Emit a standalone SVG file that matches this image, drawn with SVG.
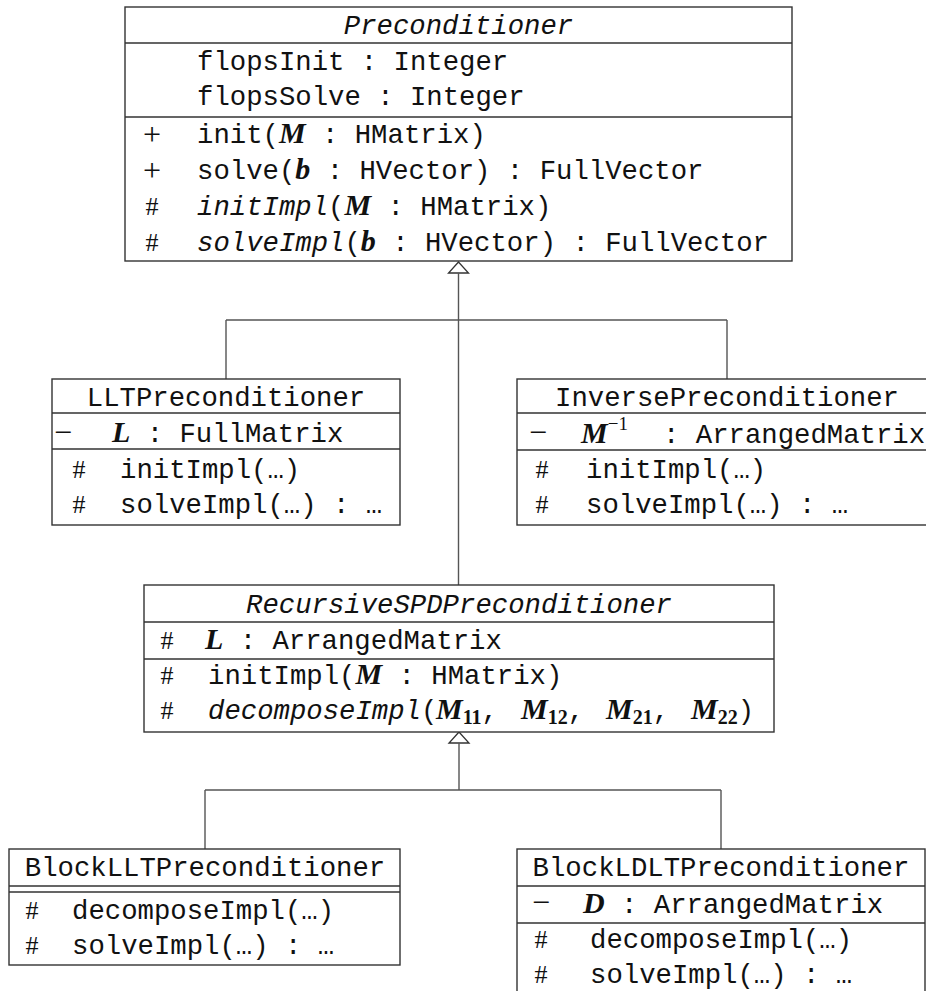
<svg xmlns="http://www.w3.org/2000/svg" width="926" height="991" viewBox="0 0 926 991">
<style>
.box{fill:#fff;stroke:#333;stroke-width:1.4}
.sep{stroke:#333;stroke-width:1.4;fill:none}
.con{stroke:#555;stroke-width:1.4;fill:none}
.tri{fill:#fff;stroke:#333;stroke-width:1.3}
text{font-family:"Liberation Mono","DejaVu Sans Mono",monospace;font-size:27.3px;fill:#111}
.c{text-anchor:middle}
.it{font-style:italic}
.m{font-family:"Liberation Serif","DejaVu Serif",serif;font-weight:bold;font-style:italic;font-size:30px}
.sg{font-family:"Liberation Serif","DejaVu Serif",serif;text-anchor:middle;font-size:26px}
.pl{font-size:32px}
.mi{font-size:32px}
.sub{font-family:"Liberation Serif","DejaVu Serif",serif;font-weight:bold;font-size:20px}
.sup{font-family:"Liberation Serif","DejaVu Serif",serif;font-size:19px}
</style>
<g id="connectors">
<polygon class="tri" points="458.5,262 448.5,273 468.5,273"/>
<path class="con" d="M458.5,273V585M226,320H727M226,320V379M727,320V379"/>
<polygon class="tri" points="459,732 449,743 469,743"/>
<path class="con" d="M459,743V790M205,790H721M205,790V849M721,790V849"/>
</g>
<g id="Preconditioner">
<rect class="box" x="125" y="7" width="667" height="254"/>
<path class="sep" d="M125,43H792M125,117H792"/>
<text class="c it" x="458.5" y="34">Preconditioner</text>
<text x="197" y="70">flopsInit : Integer</text>
<text x="197" y="105">flopsSolve : Integer</text>
<text class="sg pl" x="152" y="145">+</text>
<text x="197" y="143">init(<tspan class="m">M</tspan> : HMatrix)</text>
<text class="sg pl" x="152" y="181">+</text>
<text x="197" y="179">solve(<tspan class="m">b</tspan> : HVector) : FullVector</text>
<text class="sg" x="152" y="215">#</text>
<text x="197" y="215"><tspan class="it">initImpl</tspan>(<tspan class="m">M</tspan> : HMatrix)</text>
<text class="sg" x="152" y="251">#</text>
<text x="197" y="251"><tspan class="it">solveImpl</tspan>(<tspan class="m">b</tspan> : HVector) : FullVector</text>
</g>
<g id="LLTPreconditioner">
<rect class="box" x="52" y="379" width="348" height="146"/>
<path class="sep" d="M52,413H400M52,449H400"/>
<text class="c" x="226" y="406">LLTPreconditioner</text>
<text class="sg mi" x="63" y="443">−</text>
<text x="112" y="442"><tspan class="m">L</tspan> : FullMatrix</text>
<text class="sg" x="79" y="478">#</text>
<text x="120" y="478">initImpl(…)</text>
<text class="sg" x="79" y="513">#</text>
<text x="120" y="513">solveImpl(…) : …</text>
</g>
<g id="InversePreconditioner">
<rect class="box" x="517" y="379" width="420" height="146"/>
<path class="sep" d="M517,413H937M517,450H937"/>
<text class="c" x="727" y="406">InversePreconditioner</text>
<text class="sg mi" x="538" y="443">−</text>
<text x="581" y="443"><tspan class="m">M</tspan><tspan class="sup" dy="-13">−1</tspan></text>
<text x="663" y="443">: ArrangedMatrix</text>
<text class="sg" x="542" y="478">#</text>
<text x="586" y="478">initImpl(…)</text>
<text class="sg" x="542" y="513">#</text>
<text x="586" y="513">solveImpl(…) : …</text>
</g>
<g id="RecursiveSPDPreconditioner">
<rect class="box" x="144" y="585" width="630" height="147"/>
<path class="sep" d="M144,622H774M144,659H774"/>
<text class="c it" x="459" y="613">RecursiveSPDPreconditioner</text>
<text class="sg" x="167" y="649">#</text>
<text x="205" y="649"><tspan class="m">L</tspan> : ArrangedMatrix</text>
<text class="sg" x="167" y="684">#</text>
<text x="208" y="684">initImpl(<tspan class="m">M</tspan> : HMatrix)</text>
<text class="sg" x="167" y="719">#</text>
<text x="208" y="719"><tspan class="it">decomposeImpl</tspan>(</text>
<text x="436" y="719"><tspan class="m">M</tspan><tspan class="sub" dy="5">11</tspan><tspan dy="-5">,</tspan></text>
<text x="521" y="719"><tspan class="m">M</tspan><tspan class="sub" dy="5">12</tspan><tspan dy="-5">,</tspan></text>
<text x="606" y="719"><tspan class="m">M</tspan><tspan class="sub" dy="5">21</tspan><tspan dy="-5">,</tspan></text>
<text x="691" y="719"><tspan class="m">M</tspan><tspan class="sub" dy="5">22</tspan><tspan dy="-5">)</tspan></text>
</g>
<g id="BlockLLTPreconditioner">
<rect class="box" x="9" y="849" width="391" height="116"/>
<path class="sep" d="M9,886H400M9,892H400"/>
<text class="c" x="205" y="876">BlockLLTPreconditioner</text>
<text class="sg" x="32" y="919">#</text>
<text x="72" y="919">decomposeImpl(…)</text>
<text class="sg" x="32" y="954">#</text>
<text x="72" y="954">solveImpl(…) : …</text>
</g>
<g id="BlockLDLTPreconditioner">
<rect class="box" x="517" y="849" width="408" height="150"/>
<path class="sep" d="M517,886H925M517,923H925"/>
<text class="c" x="721" y="876">BlockLDLTPreconditioner</text>
<text class="sg mi" x="541" y="913">−</text>
<text x="583" y="913"><tspan class="m">D</tspan> : ArrangedMatrix</text>
<text class="sg" x="541" y="948">#</text>
<text x="590" y="948">decomposeImpl(…)</text>
<text class="sg" x="541" y="983">#</text>
<text x="590" y="983">solveImpl(…) : …</text>
</g>
</svg>
